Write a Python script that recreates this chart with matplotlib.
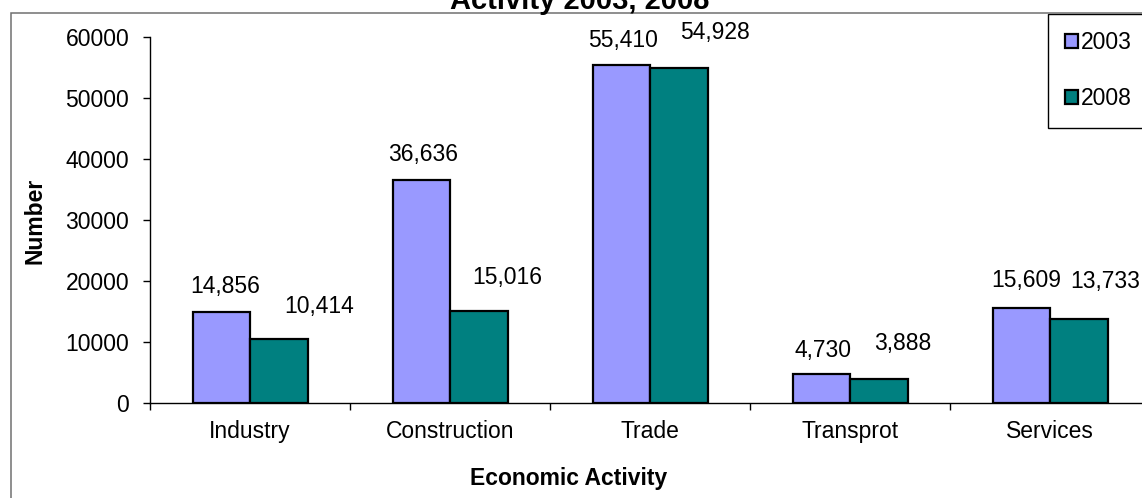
import matplotlib
matplotlib.use("Agg")
import matplotlib.pyplot as plt
from matplotlib.patches import Rectangle
from matplotlib.transforms import IdentityTransform
import numpy as np

categories = ["Industry", "Construction", "Trade", "Transprot", "Services"]
values_2003 = [14856, 36636, 55410, 4730, 15609]
values_2008 = [10414, 15016, 54928, 3888, 13733]
series_names = ["2003", "2008"]
yticks = [0, 10000, 20000, 30000, 40000, 50000, 60000]

# label offsets (pixels) relative to bar top-center
off_2003 = [(4, -26), (2, -25), (2, -24), (2, -24), (5, -27)]
off_2008 = [(40, -33), (28, -34), (36, -35), (24, -36), (26, -38)]

plt.rcParams['font.family'] = ['Liberation Sans', 'DejaVu Sans']
FS = 16.5

W, H = 1142, 498
fig = plt.figure(figsize=(W / 100, H / 100), dpi=100)
fig.patch.set_facecolor('white')

# chart-area frame
frame = Rectangle((11, -100), 1300, (H - 13) + 100, transform=IdentityTransform(),
                  fill=False, edgecolor='#707070', linewidth=1.1)
fig.patches.append(frame)

ax = fig.add_axes([150 / W, (H - 403) / H, 1000 / W, 366 / H])
ax.set_facecolor('none')

x = np.arange(len(categories))
bw = 0.2875
b1 = ax.bar(x - bw / 2, values_2003, bw, color='#9999FF', edgecolor='black',
            linewidth=1.6, label=series_names[0], zorder=3)
b2 = ax.bar(x + bw / 2, values_2008, bw, color='#008080', edgecolor='black',
            linewidth=1.6, label=series_names[1], zorder=3)

for rects, vals, offs in ((b1, values_2003, off_2003), (b2, values_2008, off_2008)):
    for r, v, (dx, dy) in zip(rects, vals, offs):
        ax.annotate(f"{v:,}", (r.get_x() + r.get_width() / 2, v),
                    xytext=(dx, -dy), textcoords='offset pixels',
                    ha='center', va='center', fontsize=FS, clip_on=False)

ax.set_xlim(-0.5, len(categories) - 0.5)
ax.set_ylim(0, 60000)
ax.set_yticks(yticks)
ax.set_yticklabels([str(t) for t in yticks], fontsize=FS)
ax.set_xticks(np.arange(len(categories) + 1) - 0.5)
ax.set_xticklabels([])
ax.set_xticks(x, minor=True)
ax.set_xticklabels(categories, minor=True, fontsize=FS)
ax.tick_params(axis='x', which='major', length=5, width=1, direction='out')
ax.tick_params(axis='x', which='minor', length=0, pad=12)
ax.tick_params(axis='y', length=5, width=1, direction='out', pad=10)
for s in ('top', 'right'):
    ax.spines[s].set_visible(False)
for s in ('left', 'bottom'):
    ax.spines[s].set_linewidth(1)
    ax.spines[s].set_color('black')

# titles (the reference's title is cut by the top edge)
fig.text(580 / W, (H - 9) / H, "Activity 2003, 2008", ha='center', va='baseline',
         fontsize=21, fontweight='bold')
fig.text(569 / W, (H - 478) / H, "Economic Activity", ha='center', va='center',
         fontsize=FS, fontweight='bold')
fig.text(35 / W, (H - 221) / H, "Number", ha='center', va='center', rotation=90,
         fontsize=FS, fontweight='bold')

leg = ax.legend(handles=[b1, b2], labels=series_names, loc='upper left',
                bbox_to_anchor=(1048 / W, (H - 14) / H), bbox_transform=fig.transFigure,
                frameon=True, fancybox=False, edgecolor='black', framealpha=1,
                fontsize=FS, handlelength=0.55, handleheight=0.55, handletextpad=0.15,
                labelspacing=1.45, borderpad=0.75, borderaxespad=0)
leg.get_frame().set_linewidth(1)

fig.savefig("out.png", dpi=100)
